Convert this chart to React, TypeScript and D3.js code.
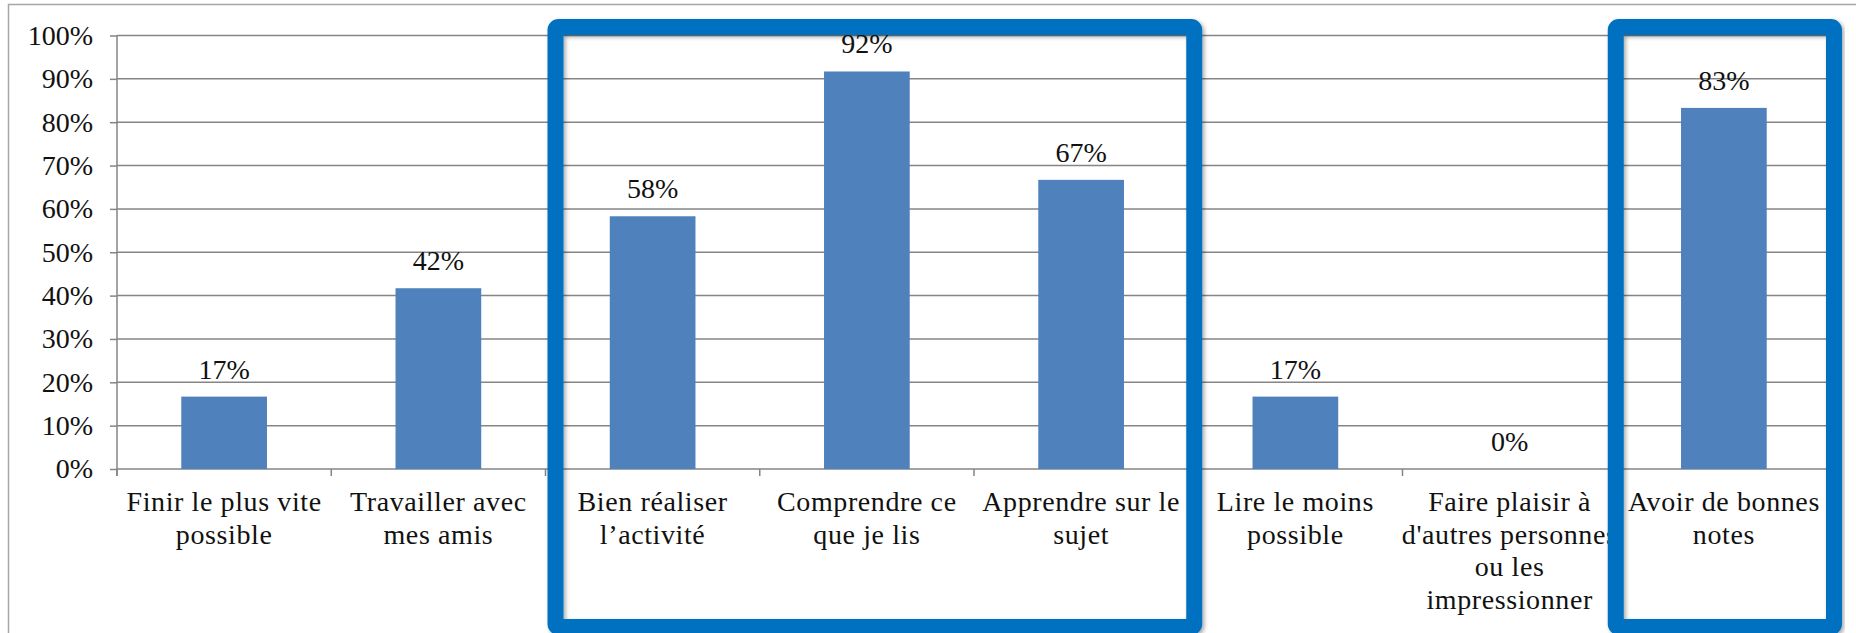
import { useEffect, useRef } from 'react';
import * as d3 from 'd3';

const WIDTH = 1856;
const HEIGHT = 633;
const PLOT = { left: 117, right: 1831, top: 35.5, bottom: 469 };

const CATEGORIES = [
  'Finir le plus vite possible',
  'Travailler avec mes amis',
  'Bien réaliser l’activité',
  'Comprendre ce que je lis',
  'Apprendre sur le sujet',
  'Lire le moins possible',
  "Faire plaisir à d'autres personnes ou les impressionner",
  'Avoir de bonnes notes',
];

// libellés tels qu'ils sont coupés sous l'axe
const LABEL_LINES = [
  ['Finir le plus vite', 'possible'],
  ['Travailler avec', 'mes amis'],
  ['Bien réaliser', 'l’activité'],
  ['Comprendre ce', 'que je lis'],
  ['Apprendre sur le', 'sujet'],
  ['Lire le moins', 'possible'],
  ['Faire plaisir à', "d'autres personnes", 'ou les', 'impressionner'],
  ['Avoir de bonnes', 'notes'],
];

const VALUES = [0.167, 0.417, 0.583, 0.917, 0.667, 0.167, 0, 0.833];

const Y_TICKS = [0, 0.1, 0.2, 0.3, 0.4, 0.5, 0.6, 0.7, 0.8, 0.9, 1];

// cadres bleus : première et dernière catégorie entourées
const HIGHLIGHTS = [
  { from: 'Bien réaliser l’activité', to: 'Apprendre sur le sujet', inset: [10, 6] },
  { from: 'Avoir de bonnes notes', to: 'Avoir de bonnes notes', inset: [-1, 3] },
];

const FONT = '"Liberation Serif", "Times New Roman", serif';
const GRID = '#858585';

export default function App() {
  const svgRef = useRef<SVGSVGElement>(null);

  useEffect(() => {
    if (!svgRef.current) return;
    const svg = d3.select(svgRef.current);
    svg.selectAll('*').remove();

    const x = d3
      .scaleBand()
      .domain(CATEGORIES)
      .range([PLOT.left, PLOT.right])
      .paddingInner(0.6)
      .paddingOuter(0.3);
    const y = d3.scaleLinear().domain([0, 1]).range([PLOT.bottom, PLOT.top]);
    const step = x.step();
    const bandStart = (c: string) => x(c)! - step * 0.3;

    const defs = svg.append('defs');
    defs
      .append('filter')
      .attr('id', 'shadow')
      .attr('x', '-5%')
      .attr('y', '-5%')
      .attr('width', '110%')
      .attr('height', '110%')
      .append('feDropShadow')
      .attr('dx', 2)
      .attr('dy', 2)
      .attr('stdDeviation', 2)
      .attr('flood-color', '#000')
      .attr('flood-opacity', 0.35);

    svg.append('rect').attr('width', WIDTH).attr('height', HEIGHT).attr('fill', '#fff');

    // cadre du graphique
    svg
      .append('rect')
      .attr('x', 8.5)
      .attr('y', 4.5)
      .attr('width', WIDTH)
      .attr('height', HEIGHT)
      .attr('fill', 'none')
      .attr('stroke', '#a6a6a6')
      .attr('stroke-width', 1.5);

    // quadrillage
    svg
      .append('g')
      .selectAll('line')
      .data(Y_TICKS)
      .join('line')
      .attr('x1', PLOT.left)
      .attr('x2', PLOT.right)
      .attr('y1', d => y(d))
      .attr('y2', d => y(d))
      .attr('stroke', GRID)
      .attr('stroke-width', 1.5);

    // axe Y
    const yAxis = svg
      .append('g')
      .attr('transform', `translate(${PLOT.left},0)`)
      .call(
        d3
          .axisLeft(y)
          .tickValues(Y_TICKS)
          .tickFormat(d3.format('.0%'))
          .tickSize(7)
          .tickPadding(17)
      );
    yAxis.select('.domain').remove();
    yAxis.selectAll('line').attr('stroke', GRID).attr('stroke-width', 1.5);
    yAxis
      .selectAll('text')
      .attr('fill', '#111')
      .style('font-family', FONT)
      .style('font-size', '28px');
    svg
      .append('line')
      .attr('x1', PLOT.left)
      .attr('x2', PLOT.left)
      .attr('y1', PLOT.top)
      .attr('y2', PLOT.bottom + 7)
      .attr('stroke', GRID)
      .attr('stroke-width', 1.5);

    // graduations de l'axe X aux limites des catégories
    svg
      .append('g')
      .selectAll('line')
      .data(d3.range(CATEGORIES.length + 1))
      .join('line')
      .attr('x1', i => PLOT.left + i * step)
      .attr('x2', i => PLOT.left + i * step)
      .attr('y1', PLOT.bottom)
      .attr('y2', PLOT.bottom + 7)
      .attr('stroke', GRID)
      .attr('stroke-width', 1.5);

    // barres
    svg
      .append('g')
      .selectAll('rect')
      .data(VALUES)
      .join('rect')
      .attr('x', (_, i) => x(CATEGORIES[i])!)
      .attr('y', d => y(d))
      .attr('width', x.bandwidth())
      .attr('height', d => y(0) - y(d))
      .attr('fill', '#4f81bd');

    // valeurs
    svg
      .append('g')
      .selectAll('text')
      .data(VALUES)
      .join('text')
      .attr('x', (_, i) => x(CATEGORIES[i])! + x.bandwidth() / 2)
      .attr('y', d => y(d) - 18)
      .attr('text-anchor', 'middle')
      .attr('fill', '#111')
      .style('font-family', FONT)
      .style('font-size', '28px')
      .text(d => d3.format('.0%')(d));

    // libellés des catégories
    const labels = svg
      .append('g')
      .selectAll('text')
      .data(LABEL_LINES)
      .join('text')
      .attr('text-anchor', 'middle')
      .attr('fill', '#111')
      .style('font-family', FONT)
      .style('font-size', '28px')
      .style('letter-spacing', '0.6px');
    labels.each(function (lines, i) {
      const cx = x(CATEGORIES[i])! + x.bandwidth() / 2;
      d3.select(this)
        .selectAll('tspan')
        .data(lines)
        .join('tspan')
        .attr('x', cx)
        .attr('y', (_, j) => 511 + j * 32.5)
        .text(d => d);
    });

    // cadres de mise en évidence
    svg
      .append('g')
      .selectAll('rect')
      .data(HIGHLIGHTS)
      .join('rect')
      .attr('x', d => bandStart(d.from) + d.inset[0])
      .attr('y', 27)
      .attr('width', d => bandStart(d.to) + step + d.inset[1] - (bandStart(d.from) + d.inset[0]))
      .attr('height', 600)
      .attr('rx', 3)
      .attr('fill', 'none')
      .attr('stroke', '#0070c0')
      .attr('stroke-width', 16)
      .attr('filter', 'url(#shadow)');
  }, []);

  return (
    <svg
      ref={svgRef}
      width={WIDTH}
      height={HEIGHT}
      style={{ position: 'absolute', left: 0, top: 0, display: 'block' }}
    />
  );
}
